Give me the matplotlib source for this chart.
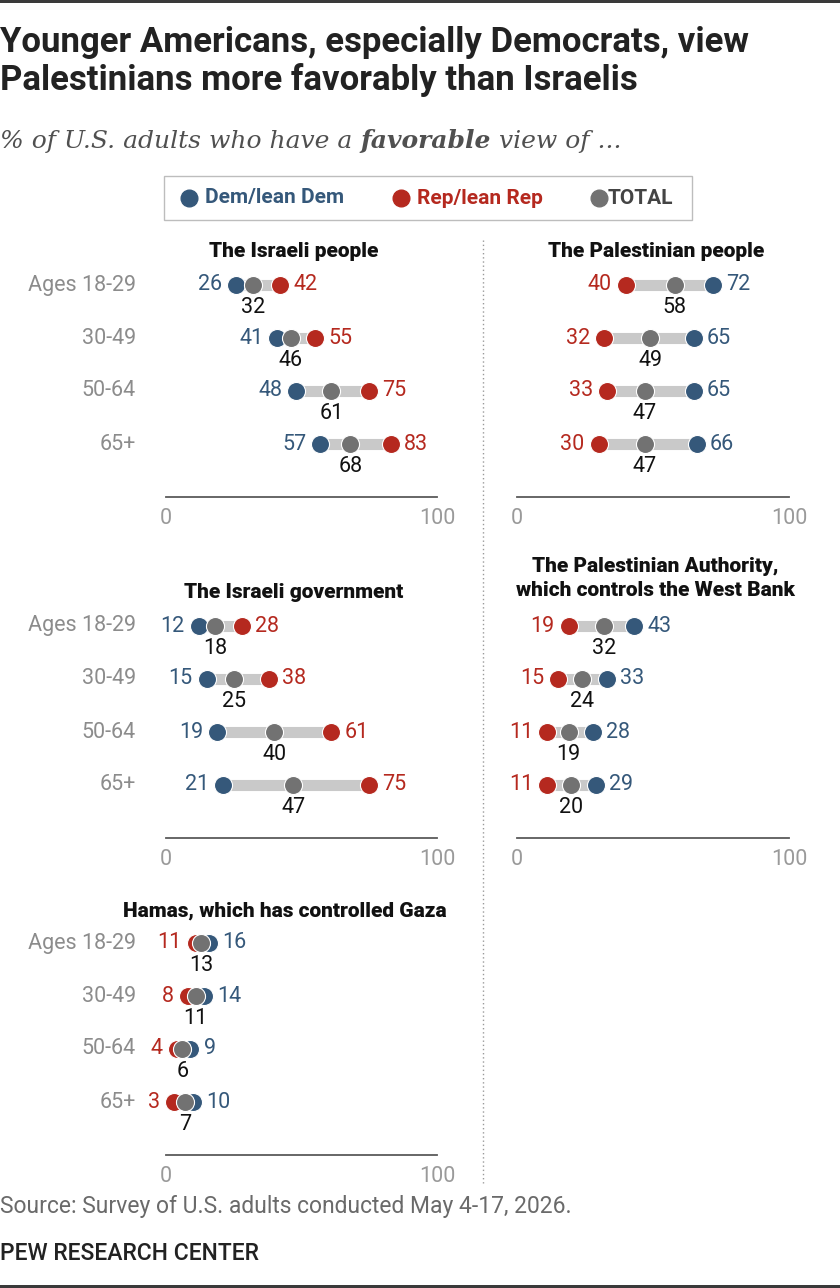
import matplotlib
matplotlib.use("Agg")
import matplotlib.pyplot as plt
from matplotlib.patches import Rectangle
from matplotlib.lines import Line2D

W, H, DPI = 840, 1288, 100

ages = ["Ages 18-29", "30-49", "50-64", "65+"]

israeli_people_dem = [26, 41, 48, 57]
israeli_people_rep = [42, 55, 75, 83]
israeli_people_total = [32, 46, 61, 68]

palestinian_people_dem = [72, 65, 65, 66]
palestinian_people_rep = [40, 32, 33, 30]
palestinian_people_total = [58, 49, 47, 47]

israeli_gov_dem = [12, 15, 19, 21]
israeli_gov_rep = [28, 38, 61, 75]
israeli_gov_total = [18, 25, 40, 47]

pa_dem = [43, 33, 28, 29]
pa_rep = [19, 15, 11, 11]
pa_total = [32, 24, 19, 20]

hamas_dem = [16, 14, 9, 10]
hamas_rep = [11, 8, 4, 3]
hamas_total = [13, 11, 6, 7]

panel_titles = ["The Israeli people", "The Palestinian people",
                "The Israeli government",
                "The Palestinian Authority,\nwhich controls the West Bank",
                "Hamas, which has controlled Gaza"]

legend_labels = ["Dem/lean Dem", "Rep/lean Rep", "TOTAL"]

DEM = "#35587a"
REP = "#b5291f"
TOT = "#727272"
BAR = "#c9c9c9"
AGE = "#8c8c8c"

BODY = ["Roboto", "DejaVu Sans"]

plt.rcParams["font.family"] = BODY

fig = plt.figure(figsize=(W / DPI, H / DPI), dpi=DPI)


def fx(px):
    return px / W


def fy(py):
    return 1 - py / H


PT = 0.72  # points per pixel

# top and bottom rules
fig.add_artist(Rectangle((0, fy(3)), 1, 3 / H, transform=fig.transFigure,
                         color="#3a3a3a", lw=0))
fig.add_artist(Rectangle((0, fy(1288)), 1, 3 / H, transform=fig.transFigure,
                         color="#3a3a3a", lw=0))

# title
fig.text(fx(0), fy(52), "Younger Americans, especially Democrats, view",
         fontsize=25, fontweight="bold", color="#222222",
         va="baseline", ha="left")
fig.text(fx(0), fy(90), "Palestinians more favorably than Israelis",
         fontsize=25, fontweight="bold", color="#222222",
         va="baseline", ha="left")

# subtitle in three pieces
fig.canvas.draw()
renderer = fig.canvas.get_renderer()
SERIF = ["DejaVu Serif"]
parts = [("% of U.S. adults who have a ", "normal"),
         ("favorable", "bold"),
         (" view of ...", "normal")]
xpos = 0
for txt, wt in parts:
    t = fig.text(fx(xpos), fy(148), txt, fontsize=18, style="italic",
                 fontweight=wt, family=SERIF, color="#505050",
                 va="baseline", ha="left")
    bb = t.get_window_extent(renderer=renderer)
    xpos += bb.width

# legend
fig.add_artist(Rectangle((fx(164), fy(220)), (692 - 164) / W, (220 - 176) / H,
                         transform=fig.transFigure, fill=False,
                         edgecolor="#bdbdbd", lw=1))
leg = [(189, 205, DEM, DEM), (401, 417, REP, REP), (599, 608, TOT, "#444444")]
for (dx, tx, col, tcol), lab in zip(leg, legend_labels):
    fig.add_artist(Line2D([fx(dx)], [fy(198)], transform=fig.transFigure,
                          marker="o", markersize=12, color=col, lw=0))
    fig.text(fx(tx), fy(198), lab, fontsize=15, fontweight="bold",
             color=tcol, va="center", ha="left")

# dotted separator
fig.add_artist(Line2D([fx(483), fx(483)], [fy(240), fy(1183)],
                      transform=fig.transFigure, color="#9a9a9a",
                      lw=1, linestyle=(0, (1, 2))))

ROW = 53
panels = [
    (panel_titles[0], israeli_people_dem, israeli_people_rep, israeli_people_total, 166, 437, 285, 47, True, -0.64),
    (panel_titles[1], palestinian_people_dem, palestinian_people_rep, palestinian_people_total, 517, 789, 285, 51, False, -0.64),
    (panel_titles[2], israeli_gov_dem, israeli_gov_rep, israeli_gov_total, 166, 437, 626, 47, True, -0.64),
    (panel_titles[3], pa_dem, pa_rep, pa_total, 517, 789, 626, 51, False, -0.9),
    (panel_titles[4], hamas_dem, hamas_rep, hamas_total, 166, 437, 943, 44, True, -0.6),
]

FS = 15.5
for title, dem, rep, tot, x0, x1, row0, tx, show_age, ty in panels:
    ytop = row0 - 0.5 * ROW
    ybot = row0 + 4 * ROW
    ax = fig.add_axes([fx(x0), fy(ybot), (x1 - x0) / W, (ybot - ytop) / H])
    ax.set_xlim(0, 100)
    ax.set_ylim(4, -0.5)
    for s in ["top", "left", "right"]:
        ax.spines[s].set_visible(False)
    ax.spines["bottom"].set_color("#5a5a5a")
    ax.spines["bottom"].set_linewidth(1.3)
    ax.set_yticks([])
    ax.set_xticks([0, 100])
    ax.set_xticklabels(["0", "100"])
    ax.tick_params(axis="x", length=0, pad=8, labelsize=FS, labelcolor="#9a9a9a")
    ax.patch.set_alpha(0)

    ax.text(tx, ty, title, ha="center", va="center", fontsize=15,
            fontweight="black", color="#111111",
            linespacing=1.3, clip_on=False)

    for i in range(len(ages)):
        d, r, t = dem[i], rep[i], tot[i]
        ax.plot([min(d, r), max(d, r)], [i, i], color=BAR, lw=8,
                solid_capstyle="butt", zorder=1, clip_on=False)
        ax.plot([r], [i], marker="o", ms=13, color=REP, mec="white",
                mew=0.8, lw=0, zorder=2, clip_on=False)
        ax.plot([d], [i], marker="o", ms=13, color=DEM, mec="white",
                mew=0.8, lw=0, zorder=2, clip_on=False)
        ax.plot([t], [i], marker="o", ms=13, color=TOT, mec="white",
                mew=0.8, lw=0, zorder=3, clip_on=False)
        left_v, left_c = (d, DEM) if d < r else (r, REP)
        right_v, right_c = (r, REP) if d < r else (d, DEM)
        ax.annotate(str(left_v), (left_v, i), xytext=(-10, 0),
                    textcoords="offset points", ha="right", va="center",
                    fontsize=FS, color=left_c, annotation_clip=False)
        ax.annotate(str(right_v), (right_v, i), xytext=(9.5, 0),
                    textcoords="offset points", ha="left", va="center",
                    fontsize=FS, color=right_c, annotation_clip=False)
        ax.annotate(str(t), (t, i), xytext=(0, -16),
                    textcoords="offset points", ha="center", va="center",
                    fontsize=FS, color="#111111", annotation_clip=False)
        if show_age:
            ax.annotate(ages[i], (0, i), xytext=(-30 * PT, 0),
                        textcoords="offset points", ha="right", va="center",
                        fontsize=FS, color=AGE, annotation_clip=False)

fig.text(fx(0), fy(1207), "Source: Survey of U.S. adults conducted May 4-17, 2026.",
         fontsize=16.5, color="#6a6a6a", va="center", ha="left")
fig.text(fx(0), fy(1254), "PEW RESEARCH CENTER", fontsize=16.5,
         fontweight="medium", color="#222222", va="center", ha="left")

fig.savefig("out.png", dpi=DPI)
